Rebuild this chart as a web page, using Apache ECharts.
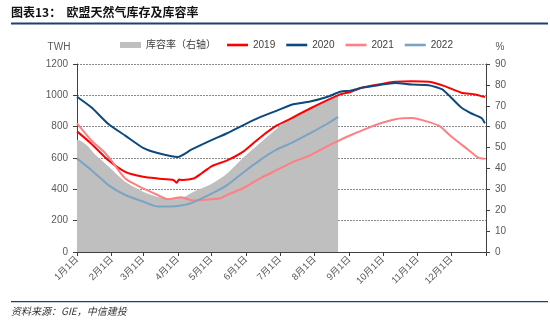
<!DOCTYPE html>
<html><head><meta charset="utf-8">
<script src="https://cdn.jsdelivr.net/npm/echarts@6/dist/echarts.min.js"></script>
<style>html,body{margin:0;padding:0;background:#fff}#c{width:550px;height:330px}</style>
</head><body><div id="c"></div>
<script>
// x positions: day of year (0 = Jan 1)
const monthStarts = [0,31,59,90,120,151,181,212,243,273,304,334,365];
const monthLabels = ['1月1日','2月1日','3月1日','4月1日','5月1日','6月1日','7月1日','8月1日','9月1日','10月1日','11月1日','12月1日'];

const seriesNames = ['库容率（右轴）','2019','2020','2021','2022'];

// 库容率 (2022, %), right axis
const daysRate = [0,4,10,15,28,43,59,72,84,96,104,120,134,149,163,178,193,208,223,233];
const valsRate = [53.7,53.0,50.5,47.3,41.0,33.6,28.9,26.5,25.7,26.5,28.9,32.6,37.6,45.5,52.1,58.9,65.2,69.2,72.3,74.7];

const days2019 = [0,13,28,43,59,72,86,89,91,94,104,111,120,134,149,163,178,193,208,223,235,244,254,269,284,299,314,328,343,355,364];
const vals2019 = [770,690,585,512,480,469,460,442,462,460,469,501,547,585,644,728,806,859,916,968,1006,1021,1048,1069,1086,1090,1086,1059,1017,1006,989];

const days2020 = [0,13,28,43,59,72,90,102,120,134,149,163,178,193,208,223,235,244,254,269,284,299,314,326,334,343,352,361,364];
const vals2020 = [991,922,817,743,665,632,606,653,714,758,812,859,901,943,960,989,1023,1030,1048,1065,1078,1069,1065,1038,985,922,884,855,821];

const days2021 = [0,13,24,30,43,59,72,81,93,104,120,128,134,149,163,178,193,208,223,235,244,254,269,284,299,308,323,334,349,358,364];
const vals2021 = [821,711,640,590,469,406,364,337,349,328,337,343,364,410,469,522,575,617,674,716,745,775,817,848,855,842,806,737,653,602,594];

const days2022 = [0,13,28,43,59,72,84,93,102,120,134,149,163,178,193,208,223,233];
const vals2022 = [596,522,427,364,322,290,290,297,312,372,427,511,585,653,701,758,817,863];

const colors = ['#BFBFBF','#FF0000','#0C4A7D','#FF7F82','#7AA3C4'];
const pair = (d, v) => d.map((x, i) => [x, v[i]]);
const FONT = '"Liberation Sans", Arial, "Noto Sans CJK SC", sans-serif';
const LINE_ICON = 'path://M0,0 L21,0 L21,2.6 L0,2.6 Z';

const chart = echarts.init(document.getElementById('c'), null, {renderer: 'canvas'});
const lineSeries = (name, d, v, color) => ({
  name, type: 'line', data: pair(d, v), symbol: 'none', smooth: 0.2,
  lineStyle: {color, width: 2}, itemStyle: {color}, z: 3
});

chart.setOption({
  animation: false,
  textStyle: {fontFamily: FONT},
  grid: {left: 77, right: 64, top: 64, bottom: 78},
  legend: {
    left: 115, top: 35, itemWidth: 21, itemHeight: 6, itemGap: 11, symbolKeepAspect: true,
    textStyle: {fontSize: 10, color: '#404040', fontFamily: FONT},
    data: [
      {name: seriesNames[0], icon: 'rect'},
      {name: seriesNames[1], icon: LINE_ICON},
      {name: seriesNames[2], icon: LINE_ICON},
      {name: seriesNames[3], icon: LINE_ICON},
      {name: seriesNames[4], icon: LINE_ICON}
    ]
  },
  xAxis: {
    type: 'value', min: 0, max: 365,
    axisLine: {lineStyle: {color: '#404040', width: 1}},
    axisTick: {show: true, length: 4, customValues: monthStarts, lineStyle: {color: '#404040'}},
    axisLabel: {
      customValues: monthStarts.slice(0, 12), rotate: 45, fontSize: 9.5, color: '#595959', margin: 6,
      formatter: (v) => monthLabels[monthStarts.indexOf(v)] || ''
    },
    splitLine: {show: false}
  },
  yAxis: [{
    type: 'value', min: 0, max: 1200, interval: 200,
    axisLine: {show: true, lineStyle: {color: '#404040'}},
    axisTick: {show: true, length: 4, lineStyle: {color: '#404040'}},
    axisLabel: {fontSize: 10, color: '#595959', margin: 9, formatter: (v) => String(v)},
    splitLine: {lineStyle: {color: '#8a8a8a', type: [2, 1], width: 1}}
  }, {
    type: 'value', min: 0, max: 90, interval: 10, position: 'right',
    axisLine: {show: true, lineStyle: {color: '#404040'}},
    axisTick: {show: true, length: 4, lineStyle: {color: '#404040'}},
    axisLabel: {fontSize: 10, color: '#595959', margin: 9, formatter: (v) => String(v)},
    splitLine: {show: false}
  }],
  graphic: [
    {type: 'text', left: 11, top: 6, style: {text: '图表13：  欧盟天然气库存及库容率', font: 'bold 12px "Noto Sans CJK SC", sans-serif', fill: '#111'}},
    {type: 'rect', shape: {x: 11, y: 22.5, width: 537, height: 2}, style: {fill: '#1F3F6E'}},
    {type: 'rect', shape: {x: 11, y: 301, width: 537, height: 1.2}, style: {fill: '#1F3F6E'}},
    {type: 'text', left: 11, top: 306, style: {text: '资料来源：GIE，中信建投', font: 'italic 10px "Noto Sans CJK SC", serif', fill: '#333'}},
    {type: 'text', x: 59, y: 47, style: {text: 'TWH', font: '10px ' + FONT, fill: '#595959', align: 'center', verticalAlign: 'middle'}},
    {type: 'text', x: 500, y: 47, style: {text: '%', font: '10px ' + FONT, fill: '#595959', align: 'center', verticalAlign: 'middle'}}
  ],
  series: [
    {name: seriesNames[0], type: 'line', yAxisIndex: 1, data: pair(daysRate, valsRate), symbol: 'none', smooth: 0.2,
     lineStyle: {width: 0, color: colors[0]}, itemStyle: {color: colors[0]}, areaStyle: {color: colors[0], opacity: 1}, z: 1},
    lineSeries(seriesNames[1], days2019, vals2019, colors[1]),
    lineSeries(seriesNames[2], days2020, vals2020, colors[2]),
    lineSeries(seriesNames[3], days2021, vals2021, colors[3]),
    lineSeries(seriesNames[4], days2022, vals2022, colors[4])
  ]
});
</script></body></html>
